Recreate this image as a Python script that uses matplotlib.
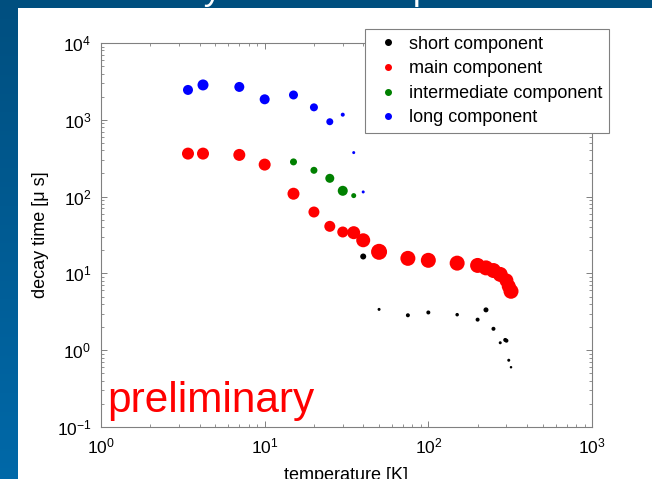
import numpy as np
import matplotlib.pyplot as plt
from matplotlib.lines import Line2D
from matplotlib.patches import Rectangle

plt.rcParams['font.family'] = ['Liberation Sans', 'DejaVu Sans']
plt.rcParams['mathtext.fontset'] = 'custom'
plt.rcParams['mathtext.rm'] = 'Liberation Sans'
plt.rcParams['mathtext.default'] = 'regular'
plt.rcParams['axes.unicode_minus'] = False

# temperature [K] and decay time [us] per component, plus marker diameters (px)
t_short = [40, 50, 75, 100, 150, 200, 225, 250, 275, 295, 300, 310, 320]
tau_short = [16.6, 3.4, 2.85, 3.1, 2.9, 2.5, 3.35, 1.9, 1.25, 1.36, 1.33, 0.74, 0.6]
d_short = [6, 3, 4, 4, 3.5, 4, 5, 4, 3, 4, 4, 3, 2.5]

t_main = [3.4, 4.2, 7, 10, 15, 20, 25, 30, 35, 40, 50, 75, 100, 150, 200,
          225, 250, 275, 300, 310, 320]
tau_main = [363, 363, 349, 261, 109, 63, 41, 34.6, 33.9, 27, 19.1, 15.7, 14.8,
            13.6, 12.7, 11.8, 10.9, 9.7, 8.1, 6.8, 5.85]
d_main = [12, 12, 12, 12, 12, 11, 11, 11, 13, 14, 16, 15, 15, 15, 15,
          15, 15, 15, 14, 14, 15]

t_inter = [15, 20, 25, 30, 35]
tau_inter = [283, 220, 173, 119, 103]
d_inter = [7, 7, 9, 10, 5]

t_long = [3.4, 4.2, 7, 10, 15, 20, 25, 30, 35, 40]
tau_long = [2448, 2844, 2679, 1849, 2105, 1453, 944, 1166, 374, 115]
d_long = [10, 11, 10, 10, 9, 8, 7, 4, 3, 3]

labels = ['short component', 'main component', 'intermediate component', 'long component']
colors = ['black', 'red', 'green', 'blue']

x_ticks = [1, 10, 100, 1000]
y_ticks = [0.1, 1, 10, 100, 1000, 10000]

fig = plt.figure(figsize=(6.52, 4.79), dpi=100)

# blue slide background with white panel
bg = fig.add_axes([0, 0, 1, 1], zorder=-2)
grad = np.linspace(0, 1, 256).reshape(-1, 1)
top_c = np.array([0.0, 0.31, 0.50])
bot_c = np.array([0.0, 0.41, 0.66])
img = top_c + (bot_c - top_c) * grad[:, :, None]
bg.imshow(img, aspect='auto', extent=[0, 1, 0, 1])
bg.axis('off')
fig.patches.append(Rectangle((18 / 652, 0), 1, 1 - 8 / 479, transform=fig.transFigure,
                             facecolor='white', edgecolor='none', zorder=-1))
# slide title, mostly hidden above the crop
fig.text(0.511, 1.0, 'Decay time vs temperature', color='white', fontsize=25.5,
         ha='center', va='baseline')

ax = fig.add_axes([101 / 652, 1 - 427 / 479, 491 / 652, 384 / 479])
ax.set_facecolor('white')

series = [(t_short, tau_short, d_short), (t_main, tau_main, d_main),
          (t_inter, tau_inter, d_inter), (t_long, tau_long, d_long)]
for (t, tau, d), c in zip(series, colors):
    s = (0.72 * np.array(d)) ** 2
    ax.scatter(t, tau, s=s, c=c, linewidths=0, zorder=3)

ax.set_xscale('log')
ax.set_yscale('log')
ax.set_xlim(1, 1000)
ax.set_ylim(0.1, 10000)
ax.set_xticks(x_ticks)
ax.set_yticks(y_ticks)
ax.set_xticklabels(['$10^{%d}$' % round(np.log10(v)) for v in x_ticks])
ax.set_yticklabels(['$10^{%d}$' % round(np.log10(v)) for v in y_ticks])

for sp in ax.spines.values():
    sp.set_color('#808080')
    sp.set_linewidth(0.8)
ax.tick_params(which='both', direction='in', top=True, right=True, color='#808080',
               labelsize=12.5, pad=7)
ax.tick_params(which='major', length=4.5, width=0.7)
ax.tick_params(which='minor', length=2.5, width=0.6)

ax.set_ylabel('decay time [\u03bc s]', fontsize=13)
ax.yaxis.set_label_coords(-0.105, 0.5)
ax.set_xlabel('temperature [K]', fontsize=13)
ax.xaxis.set_label_coords(0.5, -0.103)

ax.text(0.012, 0.039, 'preliminary', color='red', fontsize=30.5,
        transform=ax.transAxes, va='baseline', ha='left')

handles = [Line2D([], [], marker='o', ls='', color=c, markersize=4) for c in colors]
leg = ax.legend(handles, labels, loc='upper right', fontsize=13,
                bbox_to_anchor=(609 / 652, 1 - 29 / 479), bbox_transform=fig.transFigure,
                borderaxespad=0, fancybox=False, framealpha=1, numpoints=1,
                handlelength=1.77, handletextpad=0.28, borderpad=0.37, labelspacing=0.42)
leg.get_frame().set_edgecolor('#808080')
leg.get_frame().set_linewidth(0.8)

fig.savefig('out.png', dpi=100)
